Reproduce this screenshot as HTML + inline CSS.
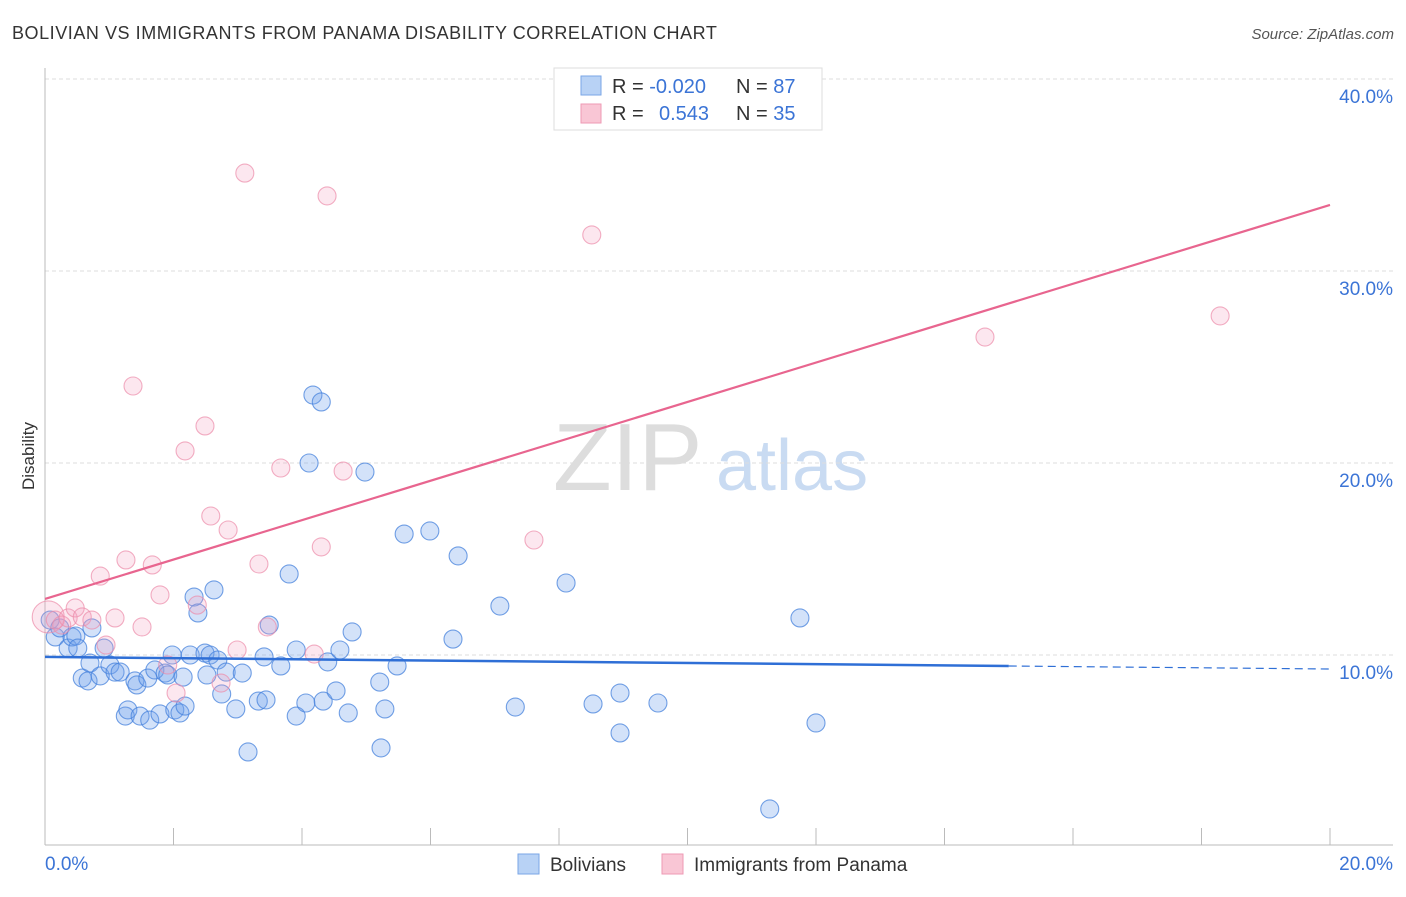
<!DOCTYPE html>
<html><head><meta charset="utf-8"><style>
body{margin:0;background:#fff;font-family:"Liberation Sans",sans-serif;}
svg text{font-family:"Liberation Sans",sans-serif;}
</style></head><body>
<svg width="1406" height="892" viewBox="0 0 1406 892">
<text x="12" y="39" font-size="18" fill="#333" letter-spacing="0.55">BOLIVIAN VS IMMIGRANTS FROM PANAMA DISABILITY CORRELATION CHART</text>
<text x="1394" y="39" font-size="15" fill="#555" font-style="italic" text-anchor="end">Source: ZipAtlas.com</text>
<g>
<text x="553" y="490" font-size="96" fill="#ddd" font-family="Liberation Serif,serif">ZIP</text>
<text x="716" y="490" font-size="72" fill="#c9dbf2">atlas</text>
</g>
<g id="grid"></g>
<g id="axes"></g>
<text transform="translate(34,456) rotate(-90)" font-size="17" fill="#333" text-anchor="middle">Disability</text>
<g id="pts"></g>
<g id="trends"></g>
<g>
<rect x="554" y="68" width="268" height="62" fill="#fff" stroke="#ddd"/>
<rect x="581" y="76" width="20" height="19" fill="#b8d2f5" stroke="#7aa6e6"/>
<rect x="581" y="104" width="20" height="19" fill="#f9c6d5" stroke="#ee9ab4"/>
<text x="612" y="93" font-size="20" fill="#333">R = <tspan fill="#3b74d6">-0.020</tspan></text>
<text x="736" y="93" font-size="20" fill="#333">N = <tspan fill="#3b74d6">87</tspan></text>
<text x="612" y="120" font-size="20" fill="#333">R = </text>
<text x="659" y="120" font-size="20" fill="#3b74d6">0.543</text>
<text x="736" y="120" font-size="20" fill="#333">N = <tspan fill="#3b74d6">35</tspan></text>
</g>
<g>
<rect x="518" y="854" width="21" height="20" fill="#b8d2f5" stroke="#7aa6e6"/>
<text x="550" y="871" font-size="19" fill="#333">Bolivians</text>
<rect x="662" y="854" width="21" height="20" fill="#f9c6d5" stroke="#ee9ab4"/>
<text x="694" y="871" font-size="19" fill="#333">Immigrants from Panama</text>
</g>
</svg>
<script>
const xTickLabels=["0.0%","20.0%"];
const yTicks=[10,20,30,40];
const blueX=[0.08,0.16,0.23,0.36,0.42,0.48,0.58,0.67,0.73,0.51,0.70,0.86,0.92,1.01,1.09,1.17,1.25,1.29,1.40,1.43,1.48,1.60,1.63,1.71,1.79,1.87,1.91,1.98,2.02,2.10,2.15,2.18,2.26,2.32,2.38,2.49,2.52,2.57,2.63,2.69,2.75,2.82,2.97,3.07,3.16,3.32,3.41,3.44,3.49,3.67,3.80,3.91,3.91,4.06,4.11,4.17,4.30,4.33,4.40,4.53,4.59,4.72,4.78,4.98,5.21,5.23,5.29,5.48,5.59,5.99,6.35,6.43,7.08,7.32,8.11,8.53,8.95,8.95,9.54,11.28,11.75,12.00];
const blueY=[11.82,10.94,11.41,10.36,10.94,10.99,8.80,8.65,11.41,10.36,9.58,8.91,10.36,9.48,9.11,9.11,6.82,7.14,8.65,8.44,6.82,8.80,6.61,9.22,6.93,9.06,8.96,10.00,7.14,6.98,8.85,7.34,10.00,13.02,12.19,10.10,8.96,10.00,13.39,9.74,7.97,9.11,7.19,9.06,4.95,7.60,9.90,7.66,11.56,9.43,14.22,6.82,10.26,7.50,20.00,23.54,23.18,7.60,9.64,8.13,10.26,6.98,11.20,19.53,8.59,5.16,7.19,9.43,16.30,16.46,10.83,15.16,12.55,7.29,13.75,7.45,8.02,5.94,7.50,1.98,11.93,6.46];
const pinkX=[0.05,0.16,0.26,0.36,0.47,0.58,0.73,0.86,0.95,1.09,1.26,1.37,1.51,1.67,1.79,1.91,2.04,2.18,2.37,2.49,2.58,2.74,2.85,2.99,3.11,3.33,3.46,3.67,4.19,4.30,4.39,4.64,7.61,8.51,14.63,18.29];
const pinkY=[11.98,11.82,11.56,11.93,12.45,11.98,11.82,14.11,10.52,11.93,14.95,24.01,11.46,14.69,13.13,9.48,8.02,20.63,12.60,21.93,17.24,8.54,16.51,10.26,35.10,14.74,11.46,19.74,10.05,15.63,33.91,19.58,15.99,31.88,26.56,27.66];
const blueTrend=[9.90,9.27];
const pinkTrend=[12.92,33.44];
const NS="http://www.w3.org/2000/svg";
const X=v=>45+v*64.25, Y=v=>847-v*19.2;
function mk(p,t,a){const e=document.createElementNS(NS,t);for(const k in a)e.setAttribute(k,a[k]);p.appendChild(e);return e;}
const grid=document.getElementById('grid'),axes=document.getElementById('axes');
yTicks.forEach(t=>{
 const l=mk(grid,'line',{x1:45,x2:1393,y1:Y(t),y2:Y(t),stroke:'#ddd','stroke-dasharray':'4,3'});
 
 
 const tx=mk(axes,'text',{x:1393,y:Y(t)+24,'font-size':19,fill:'#3b74d6','text-anchor':'end'});
 tx.textContent=t.toFixed(1)+'%';
 
 
});
mk(axes,'line',{x1:45,x2:45,y1:68,y2:845,stroke:'#bbb'});
mk(axes,'line',{x1:45,x2:1393,y1:845,y2:845,stroke:'#bbb'});
for(let i=0;i<=10;i++){mk(axes,'line',{x1:X(i*2),x2:X(i*2),y1:828,y2:845,stroke:'#bbb'});}
[[0,'start',45],[1,'end',1393]].forEach(([i,a,x])=>{
 const t=mk(axes,'text',{x:x,y:870,'font-size':19,fill:'#3b74d6','text-anchor':a});
 t.textContent=xTickLabels[i];
 
 
});
const pts=document.getElementById('pts');
blueX.forEach((x,i)=>{
 const c=mk(pts,'circle',{cx:X(x),cy:Y(blueY[i]),r:9,fill:'rgba(110,160,235,0.3)',stroke:'rgba(70,130,220,0.75)','stroke-width':1.1});
 
 
});
pinkX.forEach((x,i)=>{
 const c=mk(pts,'circle',{cx:X(x),cy:Y(pinkY[i]),r:i==0?16:9,fill:'rgba(245,160,190,0.25)',stroke:'rgba(236,140,170,0.7)','stroke-width':1.1});
 
 
});
const tr=document.getElementById('trends');
const bAt=x=>blueTrend[0]+(blueTrend[1]-blueTrend[0])*x/20;
const b1=mk(tr,'line',{x1:X(0),y1:Y(bAt(0)),x2:X(15),y2:Y(bAt(15)),stroke:'#2f6fd6','stroke-width':2.5});


const b2=mk(tr,'line',{x1:X(15),y1:Y(bAt(15)),x2:X(20),y2:Y(bAt(20)),stroke:'#2f6fd6','stroke-width':1.2,'stroke-dasharray':'8,5'});


const p1=mk(tr,'line',{x1:X(0),y1:Y(pinkTrend[0]),x2:X(20),y2:Y(pinkTrend[1]),stroke:'#e8658f','stroke-width':2.2});


</script>
</body></html>
